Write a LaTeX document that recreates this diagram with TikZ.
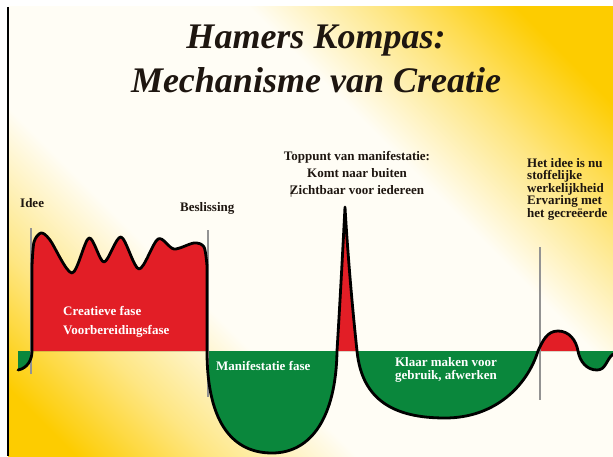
\documentclass[tikz,border=0pt]{standalone}
\usepackage{fontspec}
\setmainfont{Liberation Serif}

\definecolor{goud}{RGB}{253,204,0}
\definecolor{lichtgoud}{RGB}{254,230,130}
\definecolor{room}{RGB}{255,253,245}
\definecolor{rood}{RGB}{226,30,38}
\definecolor{groen}{RGB}{10,135,60}
\definecolor{donker}{RGB}{30,22,16}

\pgfdeclarehorizontalshading{achtergrond}{100bp}{color(0bp)=(goud); color(19bp)=(goud); color(28bp)=(lichtgoud); color(38bp)=(room); color(61bp)=(room); color(70bp)=(lichtgoud); color(79bp)=(goud); color(100bp)=(goud)}

\begin{document}
\begin{tikzpicture}[x=1pt,y=1pt,
  lbl/.style={font=\bfseries\fontsize{13}{17}\selectfont, text=donker, inner sep=0pt},
  wit/.style={font=\bfseries\fontsize{13}{19}\selectfont, text=white, inner sep=0pt},
  markering/.style={draw=gray!85, line width=1.1pt}]

    % afmetingen
    \def\W{613}
    \def\H{456}
    \def\nul{105}       % nullijn

    % de golf
    \def\golf{(18,86) to[out=10,in=-90] (32,\nul) -- (32,190)
      -- plot[smooth] coordinates {(32,190) (34,214) (41,223) (50,216)
        (72,183) (89,218) (104,194) (121,219) (139,187) (158,217)
        (174,207) (194,213) (204,209) (207,190)} -- (207,\nul)
      .. controls (207,30) and (235,3) .. (272,3)
      .. controls (312,3) and (336,40) .. (337,\nul)
      .. controls (341,170) and (344,230) .. (345,249)
      .. controls (346,230) and (350,170) .. (357,\nul)
      .. controls (362,55) and (395,38) .. (445,38)
      .. controls (495,38) and (527,70) .. (538,\nul)
      to[out=65,in=180] (558,125) to[out=0,in=100] (578,\nul)
      to[out=-80,in=180] (597,86) to[out=0,in=-140] (\W,102)}

    \useasboundingbox (0,0) rectangle (\W,\H);

    % achtergrond
    \fill[white] (0,0) rectangle (\W,\H);
    \shade[shading=achtergrond, shading angle=45] (8,0) rectangle (\W,449);
    \draw[line width=1.2pt] (8,0) -- (8,449);

    % rood boven de nullijn
    \begin{scope}
      \clip (0,\nul) rectangle (\W,\H);
      \fill[rood] \golf -- (\W,\nul) -- (18,\nul) -- cycle;
    \end{scope}

    % groen onder de nullijn
    \begin{scope}
      \clip (0,0) rectangle (\W,\nul);
      \fill[groen] \golf -- (\W,\nul) -- (18,\nul) -- cycle;
    \end{scope}

    % grijze markeringen
    \draw[markering] (31,228) -- (31,82);
    \draw[markering] (208,226) -- (208,59);
    \draw[markering] (540,209) -- (540,56);

    % lijn van de golf
    \draw[line width=2.8pt, line join=round, line cap=round] \golf;

    % titel
    \node[font=\bfseries\itshape\fontsize{36}{44}\selectfont, text=donker,
      align=center, anchor=north, inner sep=0pt] (titel) at (316,431)
      {Hamers Kompas:\\Mechanisme van Creatie};

    % teksten boven de golf
    \node[lbl, anchor=base west] (idee) at (20,249) {Idee};
    \node[lbl, anchor=base west] (beslissing) at (180,245) {Beslissing};
    \node[lbl, align=center, anchor=north] (toppunt) at (357,305)
      {Toppunt van manifestatie:\\Komt naar buiten\\\rlap{\mdseries|}Zichtbaar voor iedereen};
    \node[lbl, font=\bfseries\fontsize{13}{12.5}\selectfont, align=left,
      anchor=north west] (stoffelijk) at (527,298)
      {Het idee is nu\\stoffelijke\\werkelijkheid\\Ervaring met\\het gecreëerde};

    % teksten in de vlakken
    \node[wit, align=left, anchor=north west] (creatief) at (63,150)
      {Creatieve fase\\Voorbereidingsfase};
    \node[wit, anchor=base west] (manifest) at (216,86) {Manifestatie fase};
    \node[wit, font=\bfseries\fontsize{13}{13}\selectfont, align=center,
      anchor=north] (klaar) at (446,99) {Klaar maken voor\\gebruik, afwerken};

\end{tikzpicture}
\end{document}
